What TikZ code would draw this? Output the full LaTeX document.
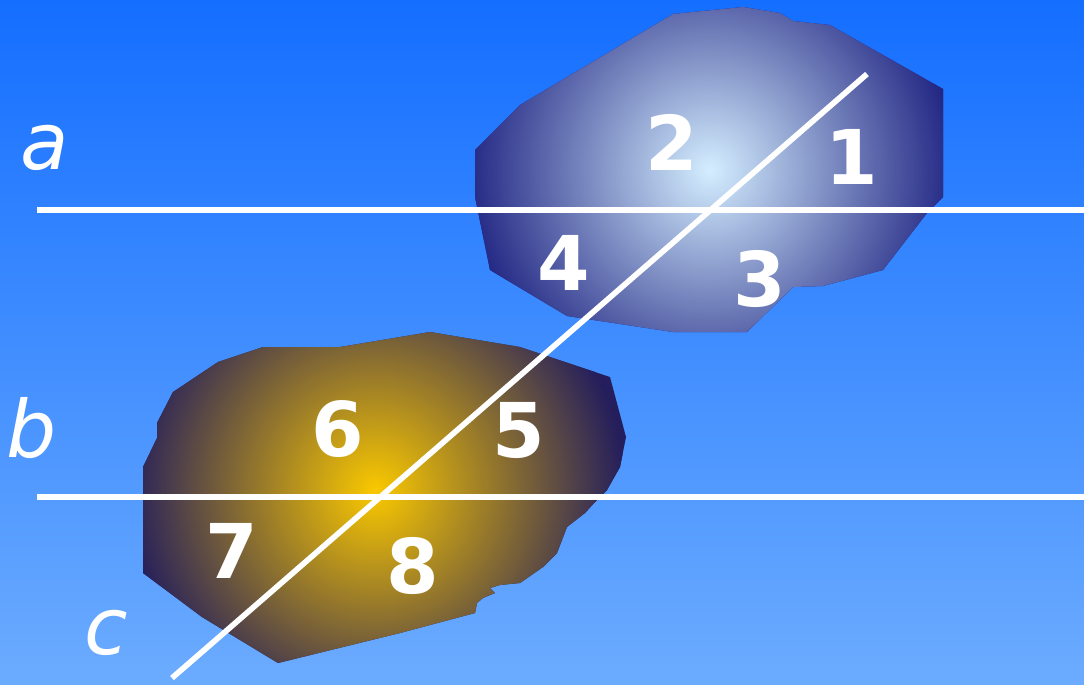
\documentclass[tikz,border=0pt]{standalone}
\usepackage{fontspec}
\setmainfont{DejaVu Sans}[ItalicFont={DejaVu Sans Oblique},
  BoldFont={DejaVu Sans Bold}, BoldItalicFont={DejaVu Sans Bold Oblique}]
\usepackage{tikz}
\usetikzlibrary{positioning}
\definecolor{skytop}{RGB}{20,110,255}
\definecolor{skybot}{RGB}{108,172,255}
\definecolor{bluecore}{RGB}{212,238,255}
\definecolor{blueedge}{RGB}{30,34,128}
\definecolor{goldcore}{RGB}{250,200,0}
\definecolor{goldedge}{RGB}{36,30,92}
\tikzset{
  numlbl/.style={text=white, inner sep=0pt,
    font=\bfseries\fontsize{43}{50}\selectfont},
  letterlbl/.style={text=white, inner sep=0pt,
    font=\itshape\fontsize{45}{54}\selectfont},
  parline/.style={draw=white, line width=3.2pt}
}

\begin{document}
\begin{tikzpicture}[x=0.02cm, y=-0.02cm]
  \useasboundingbox (0,0) rectangle (1084,684);
  \shade[top color=skytop, bottom color=skybot] (0,0) rectangle (1084,684);

  % upper blob
  \begin{scope}
    \clip (673,14) -- (743,7) -- (780,13) -- (793,21) -- (830,25) -- (943,89)
      -- (943,197) -- (927,213) -- (883,270) -- (823,286) -- (793,287)
      -- (787,293) -- (747,332) -- (673,332) -- (567,316) -- (490,270)
      -- (475,197) -- (475,150) -- (520,105) -- cycle;
    \fill[blueedge] (460,0) rectangle (960,340);
    \shade[inner color=bluecore, outer color=blueedge] (710,170) circle[radius=5cm];
  \end{scope}

  % lower blob
  \begin{scope}
    \clip (263,347) -- (340,347) -- (430,332) -- (520,347) -- (610,377)
      -- (626,437) -- (620,467) -- (607,490) -- (595,502) -- (585,513)
      -- (567,527) -- (557,553) -- (543,567) -- (520,583) -- (500,585)
      -- (490,588) -- (495,593) -- (483,598) -- (477,603) -- (475,613)
      -- (400,633) -- (278,663) -- (202,617) -- (143,573) -- (143,467)
      -- (157,438) -- (157,423) -- (173,392) -- (218,362) -- cycle;
    \fill[goldedge] (130,320) rectangle (640,684);
    \shade[inner color=goldcore, outer color=goldedge] (375,490) circle[radius=5cm];
  \end{scope}

  % the two parallels and the transversal
  \coordinate (a0) at (37,210);
  \coordinate (a1) at (1084,210);
  \coordinate (b0) at (37,497);
  \coordinate (b1) at (1084,497);
  \coordinate (c0) at (172,678);
  \coordinate (c1) at (867,74);
  \draw[parline] (a0) -- (a1);
  \draw[parline] (b0) -- (b1);
  \draw[parline] (c0) -- (c1);

  \node[letterlbl] (la) at (45,148) {a};
  \node[letterlbl] (lb) at (32,428) {b};
  \node[letterlbl] (lc) at (106,633) {c};

  \node[numlbl] (n1) at (852,157) {1};
  \node[numlbl] (n2) at (672,142) {2};
  \node[numlbl] (n3) at (760,279) {3};
  \node[numlbl] (n4) at (564,263) {4};
  \node[numlbl] (n5) at (519,430) {5};
  \node[numlbl] (n6) at (338,429) {6};
  \node[numlbl] (n7) at (232,551) {7};
  \node[numlbl] (n8) at (413,566) {8};
\end{tikzpicture}
\end{document}
